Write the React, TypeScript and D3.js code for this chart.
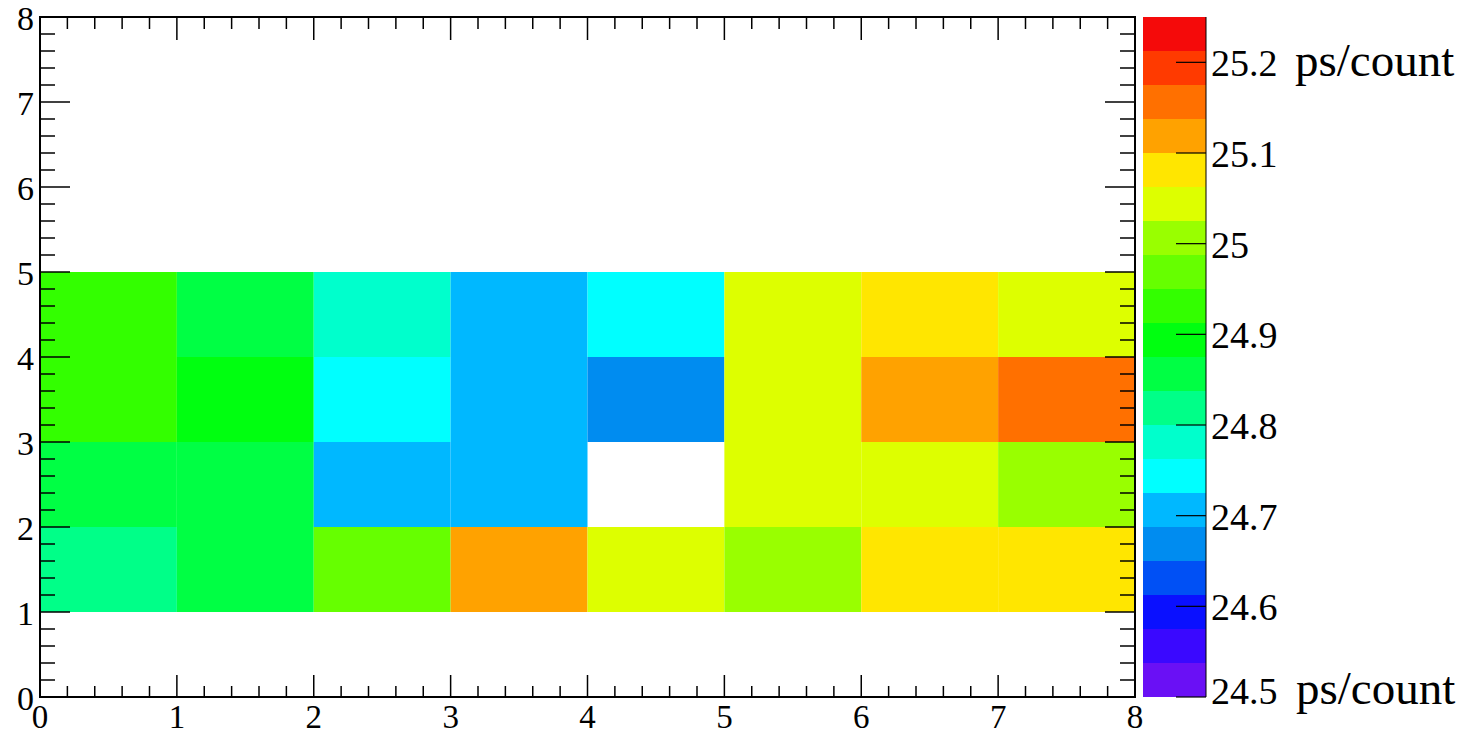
import React from "react";
import * as d3 from "d3";

// ---- data ----
const xBins = [0, 1, 2, 3, 4, 5, 6, 7];
const yBins = [1, 2, 3, 4];
// values per row (row y=1..2, 2..3, 3..4, 4..5), null = empty bin
const row1: (number | null)[] = [24.82, 24.86, 24.97, 25.12, 25.05, 25.01, 25.08, 25.08];
const row2: (number | null)[] = [24.86, 24.85, 24.70, 24.71, null, 25.05, 25.04, 25.0];
const row3: (number | null)[] = [24.93, 24.89, 24.75, 24.71, 24.67, 25.04, 25.12, 25.16];
const row4: (number | null)[] = [24.93, 24.855, 24.78, 24.705, 24.745, 25.045, 25.08, 25.04];
const rows = [row1, row2, row3, row4];

const zMin = 24.5;
const zMax = 25.25;
const palette = [
  "#6a10f5", "#3a08ff", "#0a10ff", "#0050f5", "#008cf0",
  "#00b8ff", "#00ffff", "#00ffcc", "#00ff88", "#00ff44",
  "#00ff10", "#33ff00", "#66ff00", "#99ff00", "#ddff00",
  "#ffe600", "#ffa200", "#ff7000", "#ff3a00", "#f50a0a",
];
const zTicks = [24.5, 24.6, 24.7, 24.8, 24.9, 25, 25.1, 25.2];
const zTickLabels = ["24.5", "24.6", "24.7", "24.8", "24.9", "25", "25.1", "25.2"];
const unitLabel = "ps/count";
const axisTicks = [0, 1, 2, 3, 4, 5, 6, 7, 8];

const SERIF = '"Liberation Serif"';

export default function App() {
  const W = 1469, H = 735;
  const left = 40, right = 1135, top = 17, bottom = 697;
  const x = d3.scaleLinear().domain([0, 8]).range([left, right]);
  const y = d3.scaleLinear().domain([0, 8]).range([bottom, top]);
  const color = d3.scaleQuantize<string>().domain([zMin, zMax]).range(palette);
  const cbX0 = 1143, cbX1 = 1206;
  const zy = d3.scaleLinear().domain([zMin, zMax]).range([bottom, top]);
  const minor = d3.range(0, 8.0001, 0.2).filter((v) => Math.abs(v - Math.round(v)) > 1e-6);
  const bands = palette.map((c, i) => ({
    c,
    lo: zMin + (i * (zMax - zMin)) / palette.length,
    hi: zMin + ((i + 1) * (zMax - zMin)) / palette.length,
  }));
  const zBase = (t: number) => (t === zTicks[0] ? zy(t) + 7 : zy(t) + 14);

  return (
    <svg width={W} height={H} style={{ position: "absolute", left: 0, top: 0, background: "#fff" }}>
      <rect x={0} y={0} width={W} height={H} fill="#fff" />
      {/* cells */}
      {rows.map((row, ri) =>
        row.map((v, ci) =>
          v == null ? null : (
            <rect key={`${ri}-${ci}`} x={x(xBins[ci])} y={y(yBins[ri] + 1)}
              width={x(xBins[ci] + 1) - x(xBins[ci])} height={y(yBins[ri]) - y(yBins[ri] + 1)}
              fill={color(v)} />
          )
        )
      )}
      {/* frame */}
      <rect x={left} y={top} width={right - left} height={bottom - top} fill="none" stroke="#000" strokeWidth={2} />
      {axisTicks.map((t) => (
        <g key={`xt${t}`}>
          <line x1={x(t)} x2={x(t)} y1={bottom} y2={bottom - 22} stroke="#000" strokeWidth={1.5} />
          <line x1={x(t)} x2={x(t)} y1={top} y2={top + 23} stroke="#000" strokeWidth={1.5} />
          <line x1={left} x2={left + 30} y1={y(t)} y2={y(t)} stroke="#000" strokeWidth={1.5} />
          <line x1={right} x2={right - 30} y1={y(t)} y2={y(t)} stroke="#000" strokeWidth={1.5} />
          <text x={x(t)} y={728} fontSize={33} textAnchor="middle" style={{ fontFamily: SERIF }}>{t}</text>
          <text x={34} y={y(t) + 13} fontSize={34} textAnchor="end" style={{ fontFamily: SERIF }}>{t}</text>
        </g>
      ))}
      {minor.map((t) => (
        <g key={`mt${t}`}>
          <line x1={x(t)} x2={x(t)} y1={bottom} y2={bottom - 11} stroke="#000" strokeWidth={1.5} />
          <line x1={x(t)} x2={x(t)} y1={top} y2={top + 12} stroke="#000" strokeWidth={1.5} />
          <line x1={left} x2={left + 15} y1={y(t)} y2={y(t)} stroke="#000" strokeWidth={1.5} />
          <line x1={right} x2={right - 15} y1={y(t)} y2={y(t)} stroke="#000" strokeWidth={1.5} />
        </g>
      ))}
      {/* color bar */}
      {bands.map((b, i) => (
        <rect key={`cb${i}`} x={cbX0} y={zy(b.hi)} width={cbX1 - cbX0} height={zy(b.lo) - zy(b.hi)} fill={b.c} />
      ))}
      <line x1={cbX1} x2={cbX1} y1={top} y2={bottom} stroke="#000" strokeWidth={1} />
      {zTicks.map((t, i) => (
        <g key={`zt${t}`}>
          <line x1={cbX1} x2={cbX1 - 30} y1={zy(t)} y2={zy(t)} stroke="#000" strokeWidth={1.2} />
          <text x={1211} y={zBase(t)} fontSize={38} style={{ fontFamily: SERIF }}>{zTickLabels[i]}</text>
        </g>
      ))}
      <text x={1295} y={zBase(zTicks[zTicks.length - 1])} fontSize={47} style={{ fontFamily: SERIF }}>{unitLabel}</text>
      <text x={1296} y={zBase(zTicks[0])} fontSize={47} style={{ fontFamily: SERIF }}>{unitLabel}</text>
    </svg>
  );
}
